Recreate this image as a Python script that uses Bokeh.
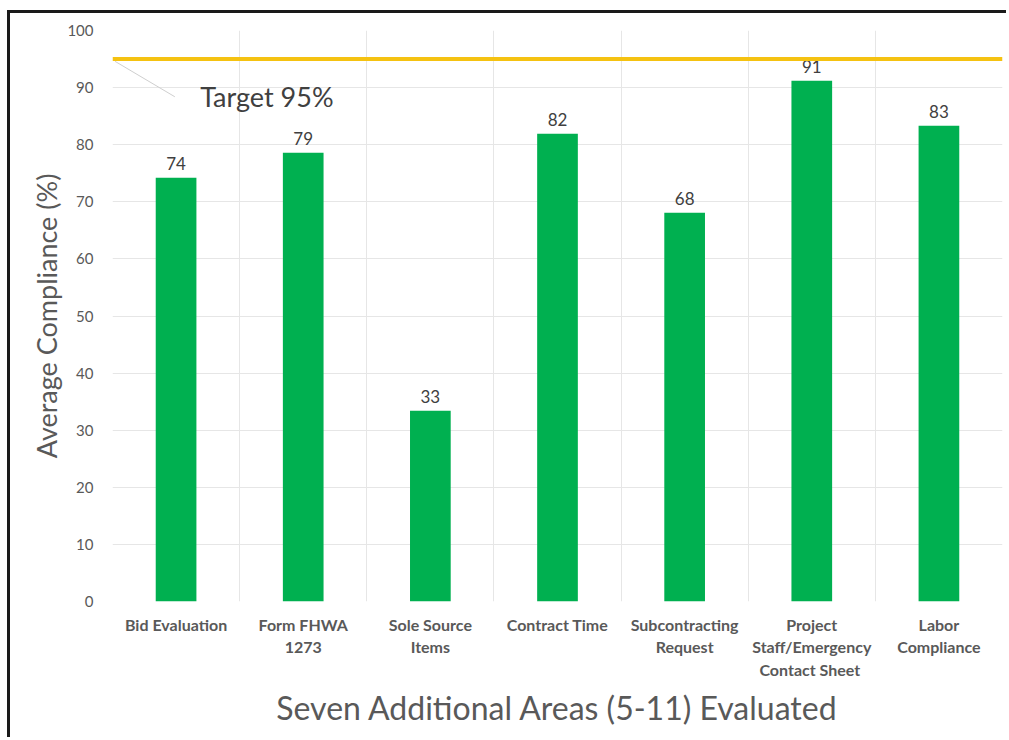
from bokeh.plotting import figure
from bokeh.models import FixedTicker, Label, ColumnDataSource, Span
from bokeh.core.properties import value
from bokeh.embed import file_html
from bokeh.resources import INLINE

categories = ["Bid Evaluation", "Form FHWA\n1273", "Sole Source\nItems", "Contract Time",
              "Subcontracting\nRequest", "Project\nStaff/Emergency\nContact  Sheet", "Labor\nCompliance"]
compliance = [74.2, 78.6, 33.4, 81.9, 68.1, 91.2, 83.3]
target = 95
y_ticks = [0, 10, 20, 30, 40, 50, 60, 70, 80, 90, 100]

xs = list(range(1, len(categories) + 1))
labels = [str(int(round(v))) for v in compliance]
src = ColumnDataSource(dict(x=xs, top=compliance, lab=labels))

FONT = "Lato"
GREY = "#595959"

p = figure(width=999, height=727, x_range=(0.5, 7.5), y_range=(0, 100),
           output_backend="svg", toolbar_location=None,
           min_border_left=102, min_border_right=7, min_border_top=17, min_border_bottom=139)
p.styles = {"margin-left": "7px", "margin-top": "10px",
            "border-left": "3px solid #1a1a1a", "border-top": "3px solid #1a1a1a"}
p.outline_line_color = None
p.background_fill_color = "white"
p.border_fill_color = "white"

p.vbar(x="x", top="top", width=0.32, bottom=0, source=src, color="#00B050", line_color=None)
p.text(x="x", y="top", text="lab", source=src, text_align="center", text_baseline="bottom",
       y_offset=-8, text_font=value(FONT), text_font_size="17px", text_color="#404040")

p.add_layout(Span(location=target, dimension="width", line_color="#F5C211", line_width=4))
p.line(x=[0.52, 0.99], y=[94.6, 88.4], line_color="#CFCFCF", line_width=1)
p.add_layout(Label(x=1.19, y=85.6, text="Target 95%", text_font=FONT, text_font_size="27px",
                   text_color="#404040"))

p.xaxis.ticker = FixedTicker(ticks=xs)
p.xaxis.major_label_overrides = {i: c for i, c in zip(xs, categories)}
p.xgrid.ticker = FixedTicker(ticks=[i + 0.5 for i in range(0, 8)])
p.xgrid.grid_line_color = "#E6E6E6"
p.ygrid.grid_line_color = "#E6E6E6"
p.yaxis.ticker = FixedTicker(ticks=y_ticks)

for ax in (p.xaxis, p.yaxis):
    ax.axis_line_color = None
    ax.major_tick_line_color = None
    ax.minor_tick_line_color = None
    ax.major_label_text_font = FONT
    ax.major_label_text_color = GREY
    ax.axis_label_text_font = FONT
    ax.axis_label_text_color = GREY
    ax.axis_label_text_font_style = "normal"

p.xaxis.major_label_text_font_size = "16px"
p.xaxis.major_label_text_font_style = "bold"
p.xaxis.major_label_standoff = 7
p.xaxis.axis_label = "Seven Additional Areas (5-11) Evaluated"
p.xaxis.axis_label_text_font_size = "32px"
p.xaxis.axis_label_standoff = 6

p.yaxis.major_label_text_font_size = "15px"
p.yaxis.major_label_standoff = 13
p.yaxis.axis_label = "Average Compliance (%)"
p.yaxis.axis_label_text_font_size = "27px"
p.yaxis.axis_label_standoff = 1

open("out.html", "w").write(file_html(p, INLINE))
